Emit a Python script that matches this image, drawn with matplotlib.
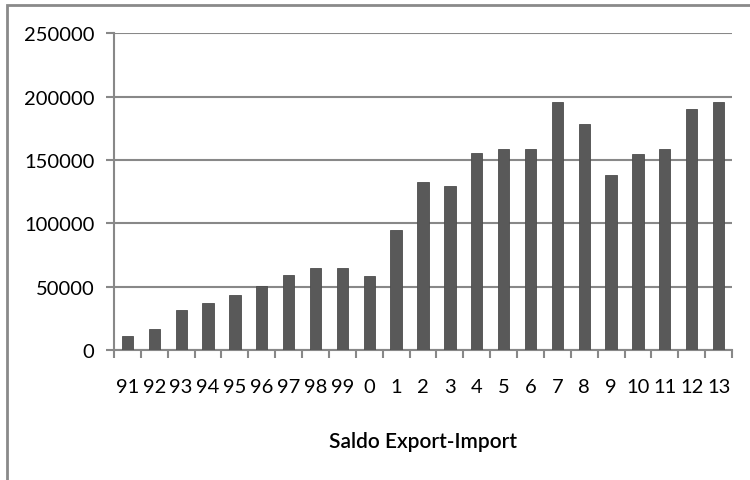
"""Saldo Export-Import bar chart"""
import numpy as np
import matplotlib
matplotlib.use("Agg")
import matplotlib.pyplot as plt
from matplotlib.patches import Rectangle

years = ["91", "92", "93", "94", "95", "96", "97", "98", "99", "0", "1", "2",
         "3", "4", "5", "6", "7", "8", "9", "10", "11", "12", "13"]
saldo = [11400, 16700, 31600, 37400, 43200, 50300, 59200, 64700, 64700, 58700,
         95000, 132600, 129700, 155500, 158300, 159000, 195600, 178000, 138500,
         155000, 159000, 190000, 195500]
yticks = [0, 50000, 100000, 150000, 200000, 250000]

plt.rcParams.update({"font.family": ["Lato", "DejaVu Sans"], "font.size": 14.5})
fig = plt.figure(figsize=(7.5, 4.81), dpi=100)
ax = fig.add_axes([0.152, 0.270, 0.824, 0.659])

x = np.arange(len(years))
ax.bar(x, saldo, width=0.42, color="#595959", edgecolor="#4d4d4d", lw=0.6, zorder=3)

ax.set_xlim(-0.5, len(years) - 0.5)
ax.set_ylim(0, 250000)
ax.set_yticks(yticks)
ax.set_yticklabels([str(v) for v in yticks])
ax.set_xticks(x)
ax.set_xticklabels(years)
ax.set_xticks(np.arange(len(years) + 1) - 0.5, minor=True)
ax.tick_params(axis="x", which="major", length=0, pad=20)
ax.tick_params(axis="x", which="minor", length=6, width=1.5, color="#888888", direction="out")
ax.tick_params(axis="y", length=6, width=1.5, color="#888888", pad=8)
ax.grid(axis="y", color="#888888", lw=1.5, zorder=0)
for side in ["top", "right"]:
    ax.spines[side].set_visible(False)
for side in ["left", "bottom"]:
    ax.spines[side].set_color("#888888")
    ax.spines[side].set_linewidth(1.5)
ax.set_xlabel("Saldo Export-Import", fontsize=15, fontweight="semibold", labelpad=26)

# outer frame of the chart area
fig.patches.append(Rectangle((7 / 750, -0.05), 1.0, 1 - 6 / 481 + 0.05,
                             transform=fig.transFigure, fill=False,
                             edgecolor="#8a8a8a", lw=2))

fig.savefig("out.png", dpi=100)
